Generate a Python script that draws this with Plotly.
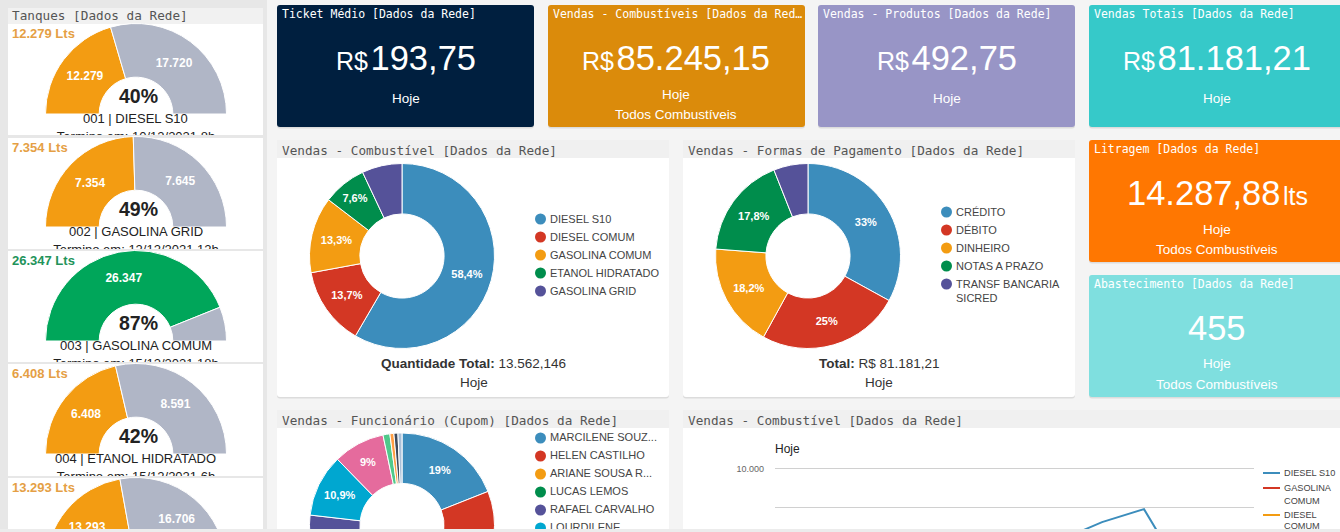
import plotly.graph_objects as go

W, H = 1340, 760
SANS = "Liberation Sans, Arial, sans-serif"
MONO = "DejaVu Sans Mono, monospace"

# ---------- data ----------
tank_names = ["001 | DIESEL S10", "002 | GASOLINA GRID", "003 | GASOLINA COMUM", "004 | ETANOL HIDRATADO", "005 | DIESEL S10"]
tank_filled = [12279, 7354, 26347, 6408, 13293]
tank_empty = [17720, 7645, 3652, 8591, 16706]
tank_filled_labels = ["12.279", "7.354", "26.347", "6.408", "13.293"]
tank_empty_labels = ["17.720", "7.645", "", "8.591", "16.706"]
tank_pct = ["40%", "49%", "87%", "42%", "44%"]
tank_end = ["Termino em: 10/12/2021 8h", "Termino em: 12/12/2021 12h", "Termino em: 15/12/2021 18h", "Termino em: 15/12/2021 6h", ""]
tank_colors = ["#f39c12", "#f39c12", "#00a65a", "#f39c12", "#f39c12"]
tank_head_colors = ["#e59f45", "#e59f45", "#22935a", "#e59f45", "#e59f45"]

fuel_labels = ["DIESEL S10", "DIESEL COMUM", "GASOLINA COMUM", "ETANOL HIDRATADO", "GASOLINA GRID"]
fuel_values = [58.4, 13.7, 13.3, 7.6, 7.0]
fuel_text = ["58,4%", "13,7%", "13,3%", "7,6%", ""]

pay_labels = ["CRÉDITO", "DÉBITO", "DINHEIRO", "NOTAS A PRAZO", "TRANSF BANCARIA<br>SICRED"]
pay_values = [33, 25, 18.2, 17.8, 6]
pay_text = ["33%", "25%", "18,2%", "17,8%", ""]

staff_labels = ["MARCILENE SOUZ...", "HELEN CASTILHO", "ARIANE SOUSA R...", "LUCAS LEMOS", "RAFAEL CARVALHO", "LOURDILENE"]
staff_values = [19, 16, 15, 14, 12.8, 10.9, 9, 1.2, 0.7, 0.7, 0.7]
staff_text = ["19%", "", "", "", "", "10,9%", "9%", "", "", "", ""]

pie_colors = ["#3c8dbc", "#d33724", "#f39c12", "#008d4c", "#555299", "#00a7d0", "#e56b9d", "#50c98b", "#ff9f43", "#3e4a5b", "#a9c0d8"]

line_hours = [5, 6, 7, 8, 9, 10]
diesel_s10 = [3100, 5350, 6530, 7375, 2800, 1200]
gasolina_comum = [500, 1500, 2000, 1700, 900, 400]
diesel_comum = [300, 900, 1300, 1100, 600, 250]

kpi_titles = ["Ticket Médio [Dados da Rede]", "Vendas - Combustíveis [Dados da Red…", "Vendas - Produtos [Dados da Rede]",
              "Vendas Totais [Dados da Rede]", "Litragem [Dados da Rede]", "Abastecimento [Dados da Rede]"]
kpi_prefix = ["R$", "R$", "R$", "R$", "", ""]
kpi_values = ["193,75", "85.245,15", "492,75", "81.181,21", "14.287,88", "455"]
kpi_suffix = ["", "", "", "", "lts", ""]
kpi_second = [False, True, False, False, True, True]
kpi_colors = ["#001f3f", "#db8b0b", "#9895c6", "#36c9c9", "#ff7701", "#7fdfdf"]
# ---------- layout geometry (pixels) ----------
kpi_boxes = [(277, 5, 534, 127), (548, 5, 805, 127), (818, 5, 1075, 127),
             (1089, 5, 1345, 127), (1089, 140, 1345, 262), (1089, 275, 1345, 397)]


def fx(p):
    return p / W


def fy(p):
    return 1 - p / H


shapes, annotations, traces = [], [], []
layout_axes = {}


def rrect(x0, y0, x1, y1, color, r=3, layer="below"):
    a, b, c, d = fx(x0), fy(y0), fx(x1), fy(y1)
    rx, ry = r / W, r / H
    path = (f"M{a+rx},{b} L{c-rx},{b} Q{c},{b} {c},{b-ry} L{c},{d+ry} Q{c},{d} {c-rx},{d} "
            f"L{a+rx},{d} Q{a},{d} {a},{d+ry} L{a},{b-ry} Q{a},{b} {a+rx},{b} Z")
    shapes.append(dict(type="path", path=path, xref="paper", yref="paper", fillcolor=color, line=dict(width=0), layer=layer))


def rect(x0, y0, x1, y1, color, layer="below"):
    shapes.append(dict(type="rect", xref="paper", yref="paper", x0=fx(x0), x1=fx(x1), y0=fy(y1), y1=fy(y0),
                       fillcolor=color, line=dict(width=0), layer=layer))


def ann(x, y, text, size=14, color="#333", anchor="center", family=SANS):
    annotations.append(dict(x=fx(x), y=fy(y), xref="paper", yref="paper", text=text, showarrow=False,
                            xanchor=anchor, yanchor="middle", align=anchor if anchor != "center" else "center",
                            font=dict(family=family, size=size, color=color), borderpad=0, borderwidth=0))


def dot(x, y, color, r=5.5):
    shapes.append(dict(type="circle", xref="paper", yref="paper", x0=fx(x - r), x1=fx(x + r), y0=fy(y + r), y1=fy(y - r),
                       fillcolor=color, line=dict(width=0), layer="below"))


def pie(cx, cy, R, values, text, colors, hole, rotation=0, widths=None, labels=None, fsize=11):
    traces.append(go.Pie(
        values=values, text=text, labels=labels or [str(i) for i in range(len(values))],
        textinfo="text", textposition="inside", insidetextorientation="horizontal",
        insidetextfont=dict(family=SANS, size=fsize, color="white", weight="bold"),
        marker=dict(colors=colors, line=dict(color="white", width=widths if widths else 1)),
        hole=hole, sort=False, direction="clockwise", rotation=rotation, showlegend=False, hoverinfo="skip",
        domain=dict(x=[fx(cx - R), fx(cx + R)], y=[fy(cy + R), fy(cy - R)])))


# ---------- left column: tanks ----------
rect(0, 0, 267, 532, "#e7e7e7")
rect(8, 8, 263, 24, "#f1f1f1")
ann(12, 15.5, "Tanques [Dados da Rede]", 12.7, "#555", "left", MONO)
card_tops = [24, 138, 251, 364, 478]
card_bots = [135, 249, 362, 476, 540]
gauge_y = [114, 227, 341, 454, 568]
for i, name in enumerate(tank_names):
    top, bot, cy = card_tops[i], card_bots[i], gauge_y[i]
    rect(8, top, 263, bot, "white")
    total = tank_filled[i] + tank_empty[i]
    pie(136, cy, 90.5, [tank_filled[i], tank_empty[i], total],
        [tank_filled_labels[i], tank_empty_labels[i], ""],
        [tank_colors[i], "#b0b6c6", "rgba(0,0,0,0)"], 0.407, rotation=270, widths=[1, 1, 0], fsize=12)
    ann(11.5, top + 9.5, f"<b>{tank_filled_labels[i]} Lts</b>", 13, tank_head_colors[i], "left")
    if i < 4:
        ann(138, cy - 18, f"<b>{tank_pct[i]}</b>", 19.5, "#222")
        ann(135.5, cy + 4.5, name, 13, "#222")
        n = i + 3
        layout_axes[f"xaxis{n}"] = dict(domain=[fx(8), fx(263)], range=[8, 263], visible=False, fixedrange=True, anchor=f"y{n}", automargin=False)
        layout_axes[f"yaxis{n}"] = dict(domain=[fy(bot), fy(top)], range=[bot, top], visible=False, fixedrange=True, anchor=f"x{n}", automargin=False)
        traces.append(go.Scatter(x=[136], y=[cy + 24], mode="text", text=[tank_end[i]], xaxis=f"x{n}", yaxis=f"y{n}",
                                 textposition="middle center", showlegend=False, hoverinfo="skip",
                                 textfont=dict(family=SANS, size=13, color="#222")))

# ---------- KPI cards ----------
for i, box in enumerate(kpi_boxes):
    x0, y0, x1, y1 = box
    rrect(x0, y0 + 1.5, x1, y1 + 1.5, "#dcdcdc")
    rrect(x0, y0, x1, y1, kpi_colors[i])
    cx = (x0 + x1) / 2
    if i >= 3:
        cx = 1217
    ann(x0 + 5, y0 + 9, kpi_titles[i], 11.5, "white", "left", MONO)
    pre = f'<span style="font-size:25px">{kpi_prefix[i]}</span><span style="font-size:9px"> </span>' if kpi_prefix[i] else ""
    suf = f'<span style="font-size:9px"> </span><span style="font-size:25px">{kpi_suffix[i]}</span>' if kpi_suffix[i] else ""
    ann(cx, y0 + 53, pre + kpi_values[i] + suf, 34.5, "white")
    if kpi_second[i]:
        ann(cx, y0 + 89, "Hoje", 13.5, "white")
        ann(cx, y0 + 109, "Todos Combustíveis", 13.5, "white")
    else:
        ann(cx, y0 + 93, "Hoje", 13.5, "white")

# ---------- panels ----------
for (x0, y0, x1, y1, title) in [(277, 140, 669, 397, "Vendas - Combustível [Dados da Rede]"),
                                (683, 140, 1075, 397, "Vendas - Formas de Pagamento [Dados da Rede]"),
                                (277, 410, 669, 540, "Vendas - Funcionário (Cupom) [Dados da Rede]"),
                                (683, 410, 1345, 540, "Vendas - Combustível [Dados da Rede]")]:
    rrect(x0, y0 + 1.5, x1, y1 + 1.5, "#dcdcdc")
    rrect(x0, y0, x1, y1, "white")
    rect(x0, y0, x1, y0 + 18, "#f0f0f0")
    ann(x0 + 5, y0 + 10, title, 12.7, "#555", "left", MONO)

pie(402, 256, 92.5, fuel_values, fuel_text, pie_colors[:5], 0.455)
for i, lab in enumerate(fuel_labels):
    dot(540.5, 219 + 18 * i, pie_colors[i])
    ann(550, 219 + 18 * i, lab, 11, "#444", "left")
ann(473.5, 363, "<b>Quantidade Total:</b> 13.562,146", 13.5, "#333")
ann(473.5, 383, "Hoje", 13.5, "#333")

pie(808, 256, 92.5, pay_values, pay_text, pie_colors[:5], 0.455)
for i, lab in enumerate(pay_labels):
    dot(946.5, 212 + 18 * i, pie_colors[i])
    ann(956, (212 + 18 * i) + (7 if "<br>" in lab else 0), lab, 11, "#444", "left")
ann(879, 363, "<b>Total:</b> R$ 81.181,21", 13.5, "#333")
ann(879, 383, "Hoje", 13.5, "#333")

pie(402, 525.5, 92.5, staff_values, staff_text, pie_colors, 0.455)
for i, lab in enumerate(staff_labels):
    dot(540.5, 438 + 18 * i, pie_colors[i])
layout_axes["xaxis7"] = dict(domain=[0, 1], range=[0, W], visible=False, fixedrange=True, anchor="y7", automargin=False)
layout_axes["yaxis7"] = dict(domain=[0, 1], range=[H, 0], visible=False, fixedrange=True, anchor="x7", automargin=False)
traces.append(go.Scatter(x=[550] * 6, y=[438 + 18 * i for i in range(6)], mode="text", text=staff_labels, xaxis="x7", yaxis="y7",
                         textposition="middle right", showlegend=False, hoverinfo="skip",
                         textfont=dict(family=SANS, size=11, color="#444")))

# ---------- line chart ----------
layout_axes["xaxis"] = dict(domain=[fx(775), fx(1254)], range=[-0.79, 10.62], visible=False, fixedrange=True, automargin=False)
layout_axes["yaxis"] = dict(domain=[fy(622), fy(465.9)], range=[0, 10200], tickvals=[0, 2500, 5000, 7500, 10000],
                            ticktext=["", "", "", "", "10.000"], gridcolor="#d0d0d0", gridwidth=1, zeroline=False,
                            showline=False, ticks="", tickfont=dict(family=SANS, size=9, color="#666"),
                            ticklabelstandoff=10, fixedrange=True, automargin=False)
line_series = [("DIESEL S10", diesel_s10, "#3c8dbc"), ("GASOLINA COMUM", gasolina_comum, "#d33724"), ("DIESEL COMUM", diesel_comum, "#f39c12")]
for name, vals, col in line_series:
    traces.append(go.Scatter(x=line_hours, y=vals, mode="lines", line=dict(color=col, width=2), name=name, showlegend=False, hoverinfo="skip"))
ann(775, 449, "Hoje", 12, "#222", "left")
for y, col, lines in [(473, "#3c8dbc", [(473, "DIESEL S10")]),
                      (488, "#d33724", [(488, "GASOLINA"), (500.5, "COMUM")]),
                      (515, "#f39c12", [(515, "DIESEL")])]:
    rect(1263, y - 1, 1280, y + 1, col)
    for ly, t in lines:
        ann(1284, ly, t, 9.2, "#444", "left")
traces.append(go.Scatter(x=[1284], y=[527], mode="text", text=["COMUM"], xaxis="x7", yaxis="y7", textposition="middle right",
                         showlegend=False, hoverinfo="skip", textfont=dict(family=SANS, size=9.2, color="#444")))

# bottom edge of the page, over everything drawn past it
rect(0, 529, W, H, "#ececec", layer="above")

fig = go.Figure(traces)
fig.update_layout(width=W, height=H, margin=dict(l=0, r=0, t=0, b=0, autoexpand=False), paper_bgcolor="#f4f4f4", plot_bgcolor="rgba(0,0,0,0)",
                  shapes=shapes, annotations=annotations, showlegend=False, **layout_axes)
fig.write_html("out.html", config=dict(displayModeBar=False),
               post_script="document.body.style.margin='0';document.documentElement.style.overflow='hidden';document.body.style.overflow='hidden';")
